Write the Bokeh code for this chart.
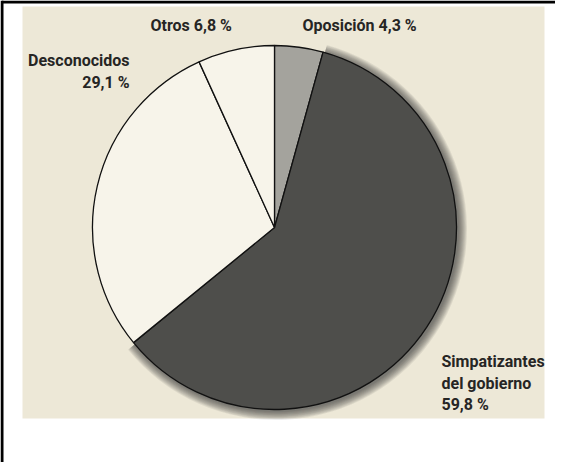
import numpy as np
from bokeh.plotting import figure
from bokeh.models import ColumnDataSource, Range1d
from bokeh.core.properties import value
from bokeh.embed import file_html
from bokeh.resources import INLINE

# ---- data ----
categories = ["Oposición", "Simpatizantes del gobierno", "Desconocidos", "Otros"]
shares = [4.3, 59.8, 29.1, 6.8]
slice_colors = ["#a4a39d", "#4e4e4b", "#f7f4ea", "#f7f4ea"]
label_lines = [["Oposición {p}"], ["Simpatizantes", "del gobierno", "{p}"], ["Desconocidos", "{p}"], ["Otros {p}"]]

# ---- layout (figure pixel coords, y up) ----
W, H = 555, 462
cx, cy, R = 274, 235, 182
label_anchor = [(302, 437, "left"), (441, 101, "left"), (129, 402, "right"), (150, 437, "left")]
line_gap = 21.5
FONT = "Roboto"

p = figure(width=W, height=H, output_backend="svg", toolbar_location=None,
           x_range=Range1d(0, W), y_range=Range1d(0, H), min_border=0)
p.axis.visible = False
p.grid.visible = False
p.outline_line_color = None
p.background_fill_color = "white"
p.border_fill_color = "white"

# newspaper paper background
p.quad(left=22, right=544, bottom=44, top=456, fill_color="#ede8d7", line_color=None)

# frame lines (left and top)
p.segment(x0=[1.5, 1.5], y0=[H, H - 1.5], x1=[1.5, W], y1=[0, H - 1.5], line_color="black", line_width=3)

# wedges
vals = np.array(shares, dtype=float)
frac = vals / vals.sum()
cum = np.concatenate([[0], np.cumsum(frac)])
start = np.pi / 2 - 2 * np.pi * cum[:-1]
end = np.pi / 2 - 2 * np.pi * cum[1:]

src = ColumnDataSource(dict(cat=categories, start=start, end=end, color=slice_colors))

# soft shadow halo for the dark slice
dark = int(np.argmax(vals))
for k in range(1, 11):
    p.wedge(x=cx + 1.5, y=cy - 1.5, radius=R + k * 0.9, start_angle=start[dark], end_angle=end[dark],
            direction="clock", fill_color="#3a3a38", fill_alpha=0.09, line_color=None)

p.wedge(x=cx, y=cy, radius=R, start_angle="start", end_angle="end", direction="clock",
        fill_color="color", line_color="#111111", line_width=1.3, source=src)

# labels
def fmt(v):
    return f"{v:.1f}".replace(".", ",") + " %"

xs, ys, txt, al = [], [], [], []
for lines, v, (lx, ly, a) in zip(label_lines, shares, label_anchor):
    for i, ln in enumerate(lines):
        xs.append(lx)
        ys.append(ly - i * line_gap)
        txt.append(ln.replace("{p}", fmt(v)))
        al.append(a)
lsrc = ColumnDataSource(dict(x=xs, y=ys, t=txt, a=al))
p.text(x="x", y="y", text="t", text_align="a", text_baseline="middle", source=lsrc,
       text_font=value(FONT), text_font_style="bold", text_font_size="16px", text_color="#262524")

open("out.html", "w").write(file_html(p, INLINE))
